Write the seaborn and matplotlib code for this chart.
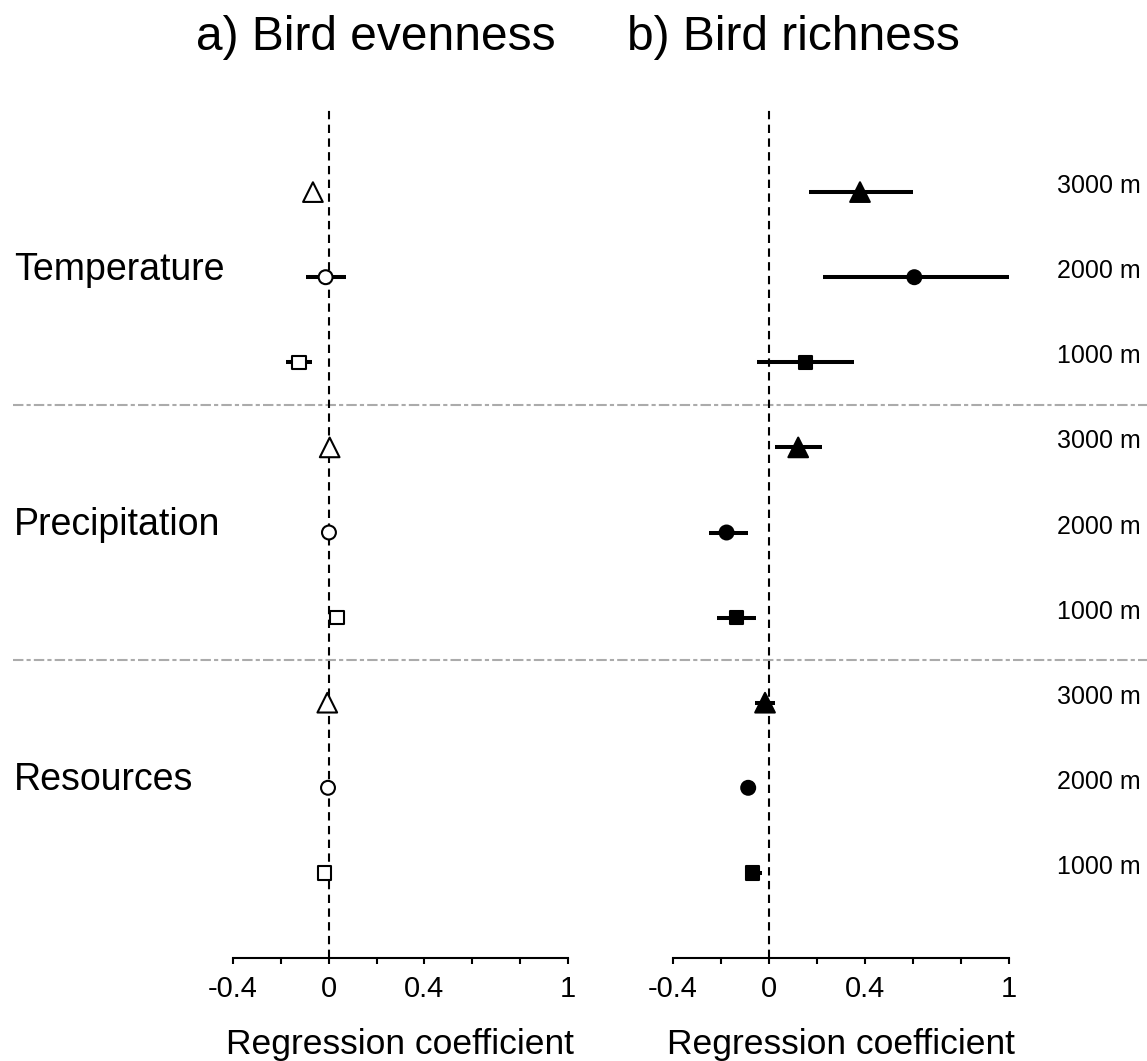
import matplotlib
matplotlib.use("Agg")
import matplotlib.pyplot as plt
import matplotlib.transforms as mtransforms
import numpy as np
import pandas as pd
import seaborn as sns

# ---- data -------------------------------------------------------------
predictors = ["Temperature", "Precipitation", "Resources"]
elevations = ["3000 m", "2000 m", "1000 m"]

# rows run top to bottom: predictor x elevation (3000, 2000, 1000 m)
evenness_coef = [-0.066, -0.013, -0.125, 0.004, 0.001, 0.035, -0.006, -0.003, -0.017]
evenness_lo = [-0.085, -0.096, -0.180, -0.010, -0.010, 0.000, -0.020, -0.015, -0.030]
evenness_hi = [-0.045, 0.071, -0.071, 0.020, 0.012, 0.060, 0.010, 0.010, -0.005]

richness_coef = [0.379, 0.605, 0.153, 0.122, -0.176, -0.134, -0.016, -0.086, -0.069]
richness_lo = [0.167, 0.224, -0.051, 0.025, -0.249, -0.215, -0.058, -0.105, -0.100]
richness_hi = [0.598, 1.000, 0.355, 0.222, -0.086, -0.054, 0.025, -0.065, -0.030]

tick_values = [-0.4, -0.2, 0.0, 0.2, 0.4, 0.6, 0.8, 1.0]
tick_labels = ["-0.4", "", "0", "", "0.4", "", "", "1"]

panel_titles = ["a) Bird evenness", "b) Bird richness"]
x_title = "Regression coefficient"

# ---- styling ----------------------------------------------------------
sns.set_style("white")
plt.rcParams["font.family"] = ["Liberation Sans", "DejaVu Sans"]
plt.rcParams["text.color"] = "black"
plt.rcParams["axes.labelcolor"] = "black"
plt.rcParams["xtick.color"] = "black"

W, H = 1147, 1061
fig = plt.figure(figsize=(W / 100, H / 100), dpi=100)
ax_a = fig.add_axes([233 / W, 103 / H, 335 / W, 851 / H])
ax_b = fig.add_axes([672.7 / W, 103 / H, 336.6 / W, 851 / H])

n_rows = len(predictors) * len(elevations)
rows = np.arange(n_rows)
elev_col = elevations * len(predictors)

marker_map = {"3000 m": "^", "2000 m": "o", "1000 m": "s"}
size_map = {"3000 m": 200, "2000 m": 100, "1000 m": 95}


def draw_panel(ax, coef, lo, hi, face):
    df = pd.DataFrame({"coef": coef, "lo": lo, "hi": hi,
                       "row": rows, "elev": elev_col})
    ax.patch.set_visible(False)
    ax.hlines(df["row"], df["lo"], df["hi"], color="black", lw=2.9,
              zorder=2, clip_on=False)
    sns.scatterplot(data=df, x="coef", y="row", style="elev",
                    markers=marker_map, size="elev", sizes=size_map,
                    style_order=elevations, size_order=elevations,
                    color=face, edgecolor="black", linewidth=1.5,
                    legend=False, zorder=3, clip_on=False, ax=ax)
    ax.axvline(0, color="black", lw=1.5, ls=(0, (4, 2.6)), zorder=1)
    ax.set_xlim(-0.4, 1.0)
    ax.set_ylim(n_rows, -1)
    ax.set_yticks([])
    ax.set_ylabel("")
    ax.set_xticks(tick_values)
    ax.set_xticklabels(tick_labels, fontsize=21, color="black")
    ax.tick_params(axis="x", direction="out", length=4, width=1.5,
                   bottom=True, pad=8, color="black")
    ax.set_xlabel(x_title, fontsize=25.5, labelpad=18, color="black")
    for side in ["top", "left", "right"]:
        ax.spines[side].set_visible(False)
    ax.spines["bottom"].set_linewidth(1.5)
    ax.spines["bottom"].set_color("black")


draw_panel(ax_a, evenness_coef, evenness_lo, evenness_hi, "white")
draw_panel(ax_b, richness_coef, richness_lo, richness_hi, "black")

# group separators spanning the figure width
blend = mtransforms.blended_transform_factory(fig.transFigure, ax_a.transData)
for sep in [2.5, 5.5]:
    ax_a.plot([13 / W, 1.0], [sep, sep], transform=blend, color="#ababab",
              lw=1.5, ls=(0, (5, 1.5, 2, 1.5)), clip_on=False, zorder=0)

# predictor names on the left
for i, name in enumerate(predictors):
    ax_a.text(14 / W, 3 * i + 1 + 0.03, name, transform=blend,
              fontsize=27, ha="left", va="baseline", color="black")

# elevation labels on the right
for r, lab in zip(rows, elev_col):
    ax_a.text(1057 / W, r - 0.07, lab, transform=blend,
              fontsize=18, ha="left", va="center", color="black")

# panel titles
fig.text(376 / W, 1 - 37 / H, panel_titles[0], fontsize=34.5,
         ha="center", va="center", color="black")
fig.text(793.5 / W, 1 - 37 / H, panel_titles[1], fontsize=34.5,
         ha="center", va="center", color="black")

fig.savefig("out.png", dpi=100, facecolor="white")
